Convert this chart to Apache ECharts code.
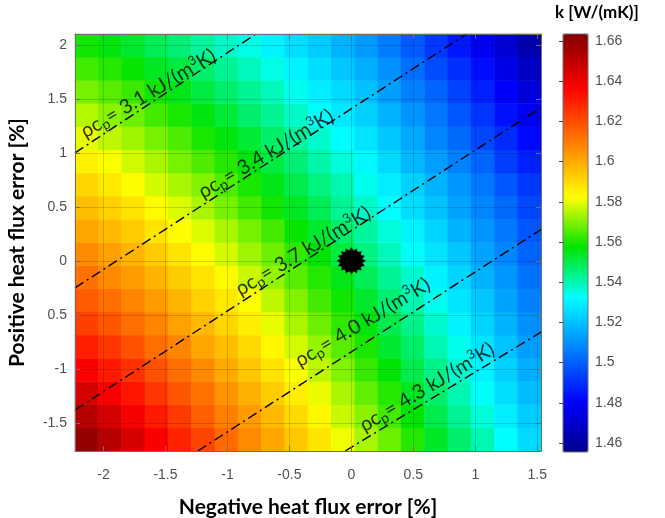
<!DOCTYPE html>
<html>
<head>
<meta charset="utf-8">
<script src="https://cdn.jsdelivr.net/npm/echarts@6/dist/echarts.min.js"></script>
<style>
  html, body { margin: 0; padding: 0; background: #fff; }
  #chart { width: 665px; height: 518px; }
</style>
</head>
<body>
<div id="chart"></div>
<script>
'use strict';

// axes
var xRange = [-2.23, 1.53];
var yRange = [-1.76, 2.1];
var kRange = [1.4555, 1.6635];
var xTicks = [-2, -1.5, -1, -0.5, 0, 0.5, 1, 1.5];
var yTicks = [-1.5, -1, -0.5, 0, 0.5, 1, 1.5, 2];
var yTickLabels = ['-1.5', '-1', '0.5', '0', '0.5', '1', '1.5', '2'];
var kTicks = [1.46, 1.48, 1.5, 1.52, 1.54, 1.56, 1.58, 1.6, 1.62, 1.64, 1.66];

// k [W/(mK)]: 20 columns (left -> right), 18 rows (bottom -> top)
var kRows = [
  [1.659, 1.652, 1.645, 1.637, 1.629, 1.622, 1.614, 1.607, 1.601, 1.594, 1.588, 1.581, 1.574, 1.568, 1.561, 1.554, 1.547, 1.540, 1.532, 1.525],
  [1.652, 1.645, 1.638, 1.631, 1.624, 1.616, 1.609, 1.603, 1.597, 1.590, 1.584, 1.577, 1.571, 1.564, 1.557, 1.550, 1.543, 1.536, 1.529, 1.522],
  [1.645, 1.638, 1.632, 1.625, 1.618, 1.612, 1.605, 1.599, 1.593, 1.586, 1.580, 1.574, 1.567, 1.561, 1.554, 1.547, 1.540, 1.533, 1.526, 1.519],
  [1.637, 1.631, 1.626, 1.619, 1.613, 1.607, 1.600, 1.594, 1.588, 1.582, 1.576, 1.570, 1.563, 1.557, 1.550, 1.544, 1.537, 1.530, 1.523, 1.516],
  [1.630, 1.625, 1.619, 1.613, 1.608, 1.601, 1.596, 1.590, 1.584, 1.578, 1.572, 1.566, 1.560, 1.553, 1.547, 1.540, 1.534, 1.527, 1.520, 1.513],
  [1.623, 1.618, 1.613, 1.608, 1.602, 1.597, 1.591, 1.586, 1.580, 1.574, 1.568, 1.562, 1.556, 1.550, 1.544, 1.537, 1.530, 1.524, 1.517, 1.510],
  [1.617, 1.613, 1.608, 1.603, 1.598, 1.592, 1.587, 1.582, 1.576, 1.570, 1.564, 1.559, 1.553, 1.546, 1.540, 1.534, 1.527, 1.521, 1.514, 1.507],
  [1.612, 1.607, 1.603, 1.598, 1.593, 1.588, 1.583, 1.577, 1.572, 1.566, 1.561, 1.555, 1.549, 1.543, 1.537, 1.530, 1.524, 1.517, 1.511, 1.504],
  [1.607, 1.602, 1.598, 1.593, 1.588, 1.583, 1.578, 1.573, 1.568, 1.562, 1.557, 1.551, 1.545, 1.539, 1.533, 1.527, 1.521, 1.514, 1.508, 1.501],
  [1.601, 1.597, 1.593, 1.588, 1.583, 1.579, 1.574, 1.569, 1.564, 1.558, 1.553, 1.547, 1.542, 1.536, 1.530, 1.524, 1.517, 1.511, 1.505, 1.498],
  [1.596, 1.592, 1.588, 1.583, 1.579, 1.574, 1.569, 1.564, 1.559, 1.554, 1.549, 1.543, 1.538, 1.532, 1.526, 1.520, 1.514, 1.508, 1.502, 1.495],
  [1.591, 1.587, 1.583, 1.578, 1.574, 1.570, 1.565, 1.560, 1.555, 1.550, 1.545, 1.540, 1.534, 1.529, 1.523, 1.517, 1.511, 1.505, 1.498, 1.492],
  [1.585, 1.582, 1.578, 1.574, 1.569, 1.565, 1.561, 1.556, 1.551, 1.546, 1.541, 1.536, 1.531, 1.525, 1.518, 1.513, 1.507, 1.501, 1.493, 1.487],
  [1.580, 1.576, 1.573, 1.569, 1.565, 1.560, 1.556, 1.552, 1.547, 1.542, 1.537, 1.532, 1.527, 1.521, 1.515, 1.508, 1.502, 1.495, 1.489, 1.482],
  [1.575, 1.571, 1.568, 1.564, 1.560, 1.556, 1.552, 1.547, 1.543, 1.538, 1.533, 1.528, 1.523, 1.517, 1.511, 1.505, 1.498, 1.491, 1.484, 1.478],
  [1.569, 1.566, 1.563, 1.559, 1.555, 1.551, 1.547, 1.543, 1.539, 1.534, 1.529, 1.525, 1.520, 1.513, 1.507, 1.501, 1.494, 1.487, 1.480, 1.473],
  [1.564, 1.561, 1.558, 1.554, 1.551, 1.547, 1.543, 1.539, 1.535, 1.530, 1.526, 1.521, 1.516, 1.510, 1.503, 1.496, 1.490, 1.483, 1.475, 1.468],
  [1.559, 1.556, 1.553, 1.549, 1.546, 1.542, 1.538, 1.535, 1.530, 1.526, 1.522, 1.517, 1.512, 1.506, 1.499, 1.492, 1.485, 1.478, 1.471, 1.463]
];

// rho*cp isolines (kJ/(m3K)), two end points each, and where their labels sit
var contourValues = ['3.1', '3.4', '3.7', '4.0', '4.3'];
var contourLines = [
  [[-2.23, 1.0], [-0.77, 2.1]],
  [[-2.23, -0.25], [0.93, 2.1]],
  [[-2.23, -1.38], [1.53, 1.42]],
  [[-1.24, -1.76], [1.53, 0.29]],
  [[-0.05, -1.76], [1.53, -0.66]]
];
var contourLabelAt = [[-1.64, 1.55], [-0.69, 0.99], [-0.39, 0.09], [0.09, -0.57], [0.61, -1.17]];
var refPoint = [0, 0];

// jet-like colour ramp for the colour bar
var rampStops = [
  [0, [0, 0, 140]], [0.12, [0, 0, 255]], [0.37, [0, 255, 255]], [0.49, [0, 228, 0]],
  [0.61, [255, 255, 0]], [0.70, [255, 165, 0]], [0.87, [255, 0, 0]], [1, [128, 0, 0]]
];
function rampColor(f) {
  for (var i = 1; i < rampStops.length; i++) {
    if (f <= rampStops[i][0]) {
      var a = rampStops[i - 1], b = rampStops[i];
      var t = (f - a[0]) / (b[0] - a[0]);
      var c = a[1].map(function (v, n) { return Math.round(v + (b[1][n] - v) * t); });
      return 'rgb(' + c.join(',') + ')';
    }
  }
  return 'rgb(128,0,0)';
}
var rampColors = [];
for (var r = 0; r <= 100; r++) rampColors.push(rampColor(r / 100));

function starPath(n, inner) {
  var d = '';
  for (var i = 0; i < 2 * n; i++) {
    var ang = i * Math.PI / n - Math.PI / 2;
    var rad = i % 2 ? inner : 1;
    d += (i ? 'L' : 'M') + (rad * Math.cos(ang)).toFixed(4) + ' ' + (rad * Math.sin(ang)).toFixed(4);
  }
  return 'path://' + d + 'Z';
}

var heatData = [];
kRows.forEach(function (row, j) {
  row.forEach(function (v, i) { heatData.push([i, j, v]); });
});
var colIdx = kRows[0].map(function (_, i) { return i; });
var rowIdx = kRows.map(function (_, j) { return j; });

var tickColor = '#505050';
var boxColor = '#6e6e6e';
var lbl = { fontFamily: 'Liberation Sans', fontSize: 14, color: tickColor };
var titleFont = { fontFamily: 'Lato', fontWeight: 'bold', fontSize: 21, color: '#000' };

var series = [{
  type: 'heatmap',
  xAxisIndex: 1,
  yAxisIndex: 1,
  data: heatData,
  z: 1,
  silent: true,
  itemStyle: { borderWidth: 0 }
}];

contourLines.forEach(function (pts) {
  series.push({
    type: 'line',
    xAxisIndex: 0,
    yAxisIndex: 0,
    data: pts,
    symbol: 'none',
    silent: true,
    z: 4,
    lineStyle: { color: '#000', width: 1.4, type: [10, 4, 2, 4] }
  });
});

series.push({
  type: 'scatter',
  xAxisIndex: 0,
  yAxisIndex: 0,
  data: contourLabelAt,
  symbolSize: 0,
  silent: true,
  z: 5,
  label: {
    show: true,
    position: 'inside',
    rotate: 31,
    formatter: function (p) {
      return '{t|ρc}{s|p}{t|= ' + contourValues[p.dataIndex] + ' kJ/(m}{u|3}{t|K)}';
    },
    rich: {
      t: { fontFamily: 'Lato', fontSize: 20, color: '#000', lineHeight: 24 },
      s: { fontFamily: 'Lato', fontSize: 14, color: '#000', lineHeight: 14, verticalAlign: 'bottom' },
      u: { fontFamily: 'Lato', fontSize: 13, color: '#000', lineHeight: 13, verticalAlign: 'top' }
    }
  }
});

series.push({
  type: 'scatter',
  xAxisIndex: 0,
  yAxisIndex: 0,
  data: [refPoint],
  symbol: starPath(16, 0.78),
  symbolSize: [29, 27],
  silent: true,
  z: 6,
  itemStyle: { color: '#000', opacity: 1 }
});

var option = {
  animation: false,
  backgroundColor: '#fff',
  grid: [
    { left: 75, top: 34, width: 466, height: 417, outerBoundsMode: 'none' },
    { left: 563, top: 34, width: 25, height: 418, show: true, z: 10,
      borderColor: boxColor, borderWidth: 1, backgroundColor: 'transparent', outerBoundsMode: 'none' }
  ],
  xAxis: [
    {
      type: 'value', gridIndex: 0, position: 'bottom', min: xRange[0], max: xRange[1], z: 6,
      axisLine: { show: true, onZero: false, lineStyle: { color: boxColor, width: 1 } },
      axisTick: { show: true, inside: true, length: 5, customValues: xTicks, lineStyle: { color: boxColor } },
      axisLabel: Object.assign({ customValues: xTicks, margin: 17 }, lbl),
      splitLine: { show: true, lineStyle: { color: 'rgba(0,0,0,0.16)', width: 1 } },
      name: 'Negative heat flux error [%]', nameLocation: 'middle', nameGap: 46,
      nameTextStyle: titleFont
    },
    { type: 'category', gridIndex: 0, position: 'top', show: false, data: colIdx, boundaryGap: true },
    {
      type: 'value', gridIndex: 0, position: 'top', min: xRange[0], max: xRange[1], z: 6,
      axisLine: { show: true, onZero: false, lineStyle: { color: boxColor, width: 1 } },
      axisTick: { show: true, inside: true, length: 5, customValues: xTicks, lineStyle: { color: boxColor } },
      axisLabel: { show: false }, splitLine: { show: false }
    },
    { type: 'value', gridIndex: 1, show: false, min: 0, max: 1 }
  ],
  yAxis: [
    {
      type: 'value', gridIndex: 0, position: 'left', min: yRange[0], max: yRange[1], z: 6,
      axisLine: { show: true, onZero: false, lineStyle: { color: boxColor, width: 1 } },
      axisTick: { show: true, inside: true, length: 5, customValues: yTicks, lineStyle: { color: boxColor } },
      axisLabel: Object.assign({
        customValues: yTicks, margin: 8,
        formatter: function (v) { return yTickLabels[yTicks.indexOf(v)]; }
      }, lbl),
      splitLine: { show: true, lineStyle: { color: 'rgba(0,0,0,0.16)', width: 1 } },
      name: 'Positive heat flux error [%]', nameLocation: 'middle', nameGap: 47,
      nameTextStyle: titleFont
    },
    { type: 'category', gridIndex: 0, position: 'right', show: false, data: rowIdx, boundaryGap: true },
    {
      type: 'value', gridIndex: 0, position: 'right', min: yRange[0], max: yRange[1], z: 6,
      axisLine: { show: true, onZero: false, lineStyle: { color: boxColor, width: 1 } },
      axisTick: { show: true, inside: true, length: 5, customValues: yTicks, lineStyle: { color: boxColor } },
      axisLabel: { show: false }, splitLine: { show: false }
    },
    {
      type: 'value', gridIndex: 1, position: 'right', min: kRange[0], max: kRange[1], z: 11,
      axisLine: { show: false },
      axisTick: { show: true, inside: true, length: 4, customValues: kTicks, lineStyle: { color: '#444' } },
      axisLabel: Object.assign({
        customValues: kTicks, margin: 7,
        formatter: function (v) { return String(+v.toFixed(2)); }
      }, lbl),
      splitLine: { show: false }
    }
  ],
  visualMap: {
    type: 'continuous',
    seriesIndex: 0,
    min: kRange[0],
    max: kRange[1],
    calculable: false,
    left: 563,
    top: 34,
    itemWidth: 25,
    itemHeight: 418,
    padding: 0,
    text: null,
    inRange: { color: rampColors }
  },
  graphic: [{
    type: 'text',
    left: 555,
    top: 4,
    style: { text: 'k [W/(mK)]', font: 'bold 17px Lato', fill: '#000' }
  }],
  series: series
};

var chart = echarts.init(document.getElementById('chart'), null, { renderer: 'canvas' });
chart.setOption(option);
</script>
</body>
</html>
